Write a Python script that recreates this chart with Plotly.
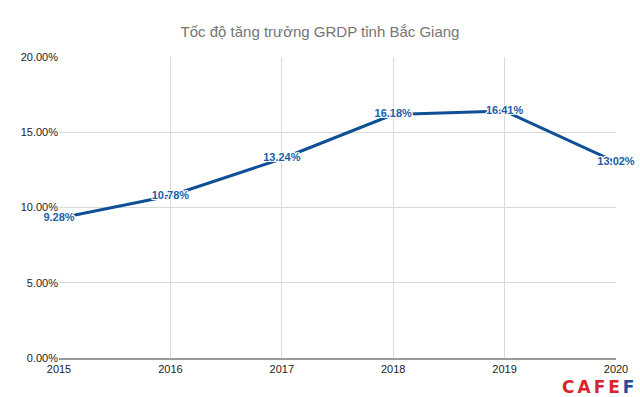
import plotly.graph_objects as go

years = [2015, 2016, 2017, 2018, 2019, 2020]
growth = [9.28, 10.78, 13.24, 16.18, 16.41, 13.02]
labels = ["9.28%", "10.78%", "13.24%", "16.18%", "16.41%", "13.02%"]
y_ticks = [0, 5, 10, 15, 20]
y_tick_text = ["0.00%", "5.00%", "10.00%", "15.00%", "20.00%"]

halo = "-1px -1px 0 #fff, 1px -1px 0 #fff, -1px 1px 0 #fff, 1px 1px 0 #fff, 0 1px 0 #fff, 0 -1px 0 #fff, 1px 0 0 #fff, -1px 0 0 #fff"

fig = go.Figure()
fig.add_trace(go.Scatter(
    x=years, y=growth, mode="lines+text",
    line=dict(color="#0f4f95", width=3),
    text=labels, textposition="middle center",
    textfont=dict(family="Liberation Sans, Arial, sans-serif", size=11,
                  color="#1b5ea7", weight="bold", shadow=halo),
    cliponaxis=False, hoverinfo="skip", showlegend=False,
))

fig.update_layout(
    width=640, height=397,
    margin=dict(l=59, r=20, t=57, b=39),
    paper_bgcolor="white", plot_bgcolor="white",
    title=dict(text="Tốc độ tăng trưởng GRDP tỉnh Bắc Giang",
               x=0.5, xanchor="center", y=1 - 32/397, yanchor="middle",
               font=dict(family="Liberation Sans, Arial, sans-serif", size=15, color="#757575")),
    xaxis=dict(range=[2015, 2020], tickvals=years, ticktext=[str(y) for y in years],
               showgrid=True, gridcolor="#d9d9d9", gridwidth=1,
               showline=True, linecolor="#999999", linewidth=1.5,
               ticks="", zeroline=False,
               tickfont=dict(family="Liberation Sans, Arial, sans-serif", size=11, color="#222222")),
    yaxis=dict(range=[0, 20], tickvals=y_ticks, ticktext=y_tick_text,
               showgrid=True, gridcolor="#d9d9d9", gridwidth=1,
               zeroline=False, showline=False, ticks="",
               tickfont=dict(family="Liberation Sans, Arial, sans-serif", size=11, color="#222222")),
    annotations=[dict(
        text="<b><span style='color:#d7262d;letter-spacing:3px'>CAFE</span><span style='color:#1d4f9c'>F</span></b>",
        xref="paper", yref="paper", x=1.0 + 20/561, y=0, xanchor="right", yanchor="middle",
        yshift=-29, showarrow=False,
        font=dict(family="DejaVu Sans, sans-serif", size=17, weight=900),
    )],
)

fig.write_html("out.html", config={"displayModeBar": False},
               post_script="document.body.style.margin='0';document.body.style.overflow='hidden';")
